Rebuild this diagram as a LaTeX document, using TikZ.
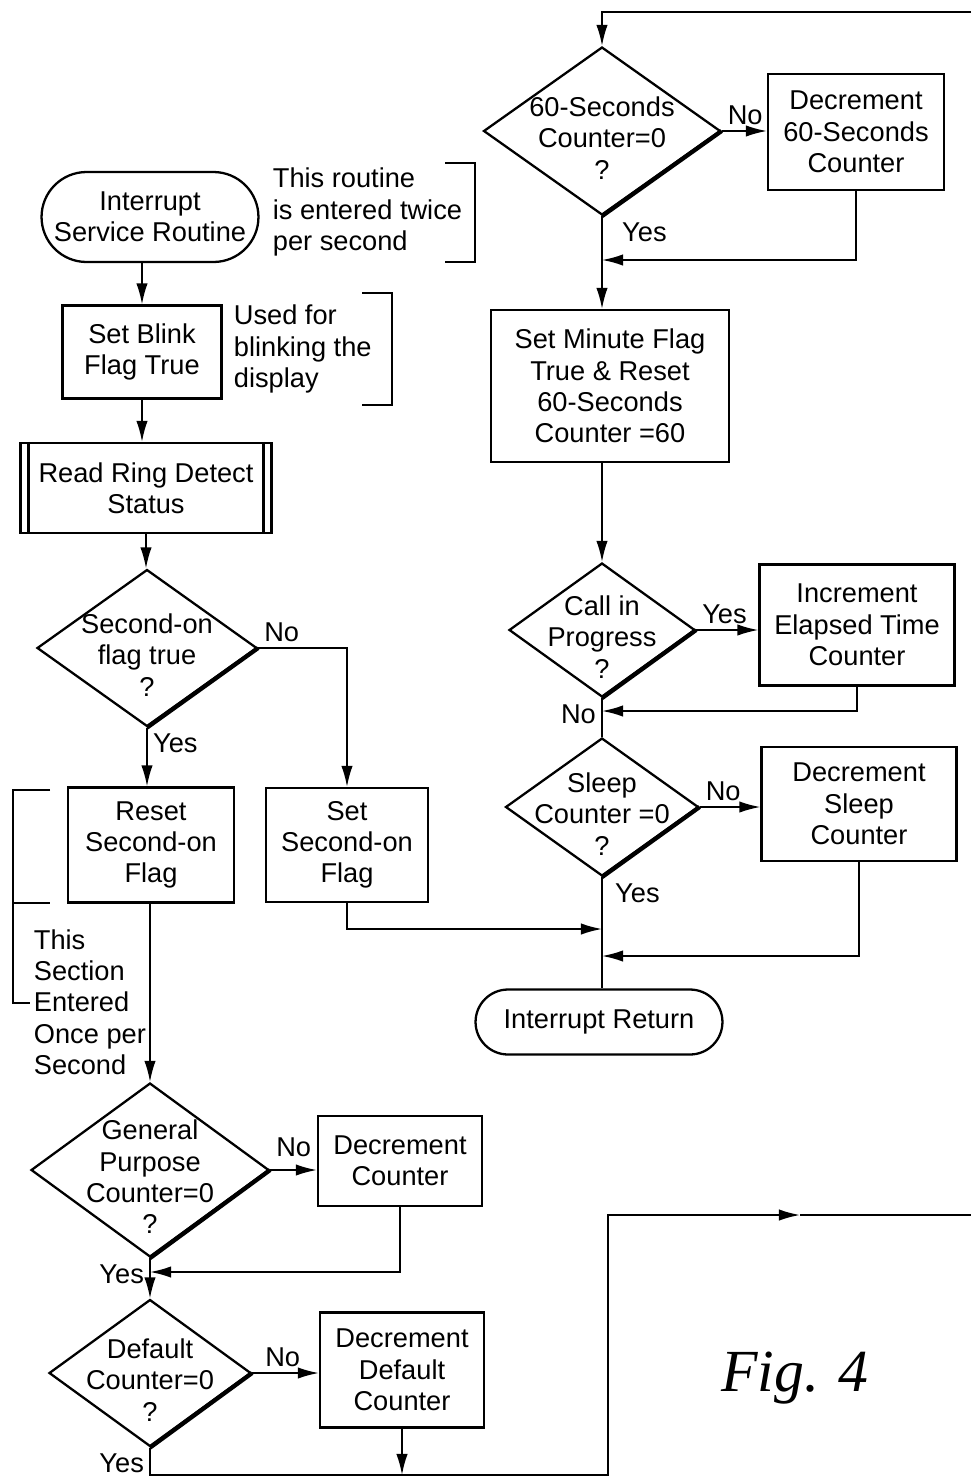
\documentclass[tikz,border=0pt]{standalone}
\usepackage{fontspec}
\setmainfont{Liberation Sans}
\newfontfamily\figfont{Liberation Serif}
\usetikzlibrary{shapes.geometric,shapes.misc,arrows.meta}

\begin{document}
\begin{tikzpicture}[x=0.02cm,y=-0.02cm,>={Latex[length=12pt,width=6.5pt]},line width=1pt,
  font=\fontsize{15.5}{17.8}\selectfont,
  term node/.style={rounded rectangle,draw,line width=1.3pt,align=center,inner sep=2pt},
  proc node/.style={rectangle,draw,line width=1.3pt,align=center,inner sep=2pt},
  sub node/.style={proc node},
  dec node/.style={diamond,draw,line width=1.3pt,inner sep=0pt},
  dec text/.style={align=center,yshift=-4pt},
  note/.style={align=left,inner sep=0pt,anchor=west},
  lbl/.style={inner sep=3pt}]
\useasboundingbox (0,0) rectangle (971,1478);

% left column
\node[term node,minimum width=4.48cm,minimum height=1.8cm] (isr) at (150,217) {Interrupt\\Service Routine};
\node[note] (n1) at (272,212) {This routine\\is entered twice\\per second};
\node[proc node,minimum width=3.18cm,minimum height=1.86cm] (blink) at (142,352) {Set Blink\\Flag True};
\node[note] (n2) at (233,349) {Used for\\blinking the\\display};
\node[sub node,minimum width=5.02cm,minimum height=1.8cm] (rrd) at (146,488) {Read Ring Detect\\Status};
\node[dec node,minimum width=4.4cm,minimum height=3.14cm,label={[dec text]center:Second-on\\flag true\\?}] (son) at (147,648) {};
\node[proc node,minimum width=3.32cm,minimum height=2.3cm] (reset) at (151,845) {Reset\\Second-on\\Flag};
\node[proc node,minimum width=3.24cm,minimum height=2.28cm] (set) at (347,845) {Set\\Second-on\\Flag};
\node[note] (n3) at (33,1002) {This\\Section\\Entered\\Once per\\Second};
\node[dec node,minimum width=4.76cm,minimum height=3.48cm,label={[dec text]center:General\\Purpose\\Counter=0\\?}] (gp) at (150,1170) {};
\node[proc node,minimum width=3.28cm,minimum height=1.8cm] (decgp) at (400,1161) {Decrement\\Counter};
\node[dec node,minimum width=4.04cm,minimum height=2.94cm,label={[dec text]center:Default\\Counter=0\\?}] (def) at (150,1373) {};
\node[proc node,minimum width=3.28cm,minimum height=2.3cm] (decdef) at (402,1370) {Decrement\\Default\\Counter};

% right column
\node[dec node,minimum width=4.74cm,minimum height=3.36cm,label={[dec text]center:60-Seconds\\Counter=0\\?}] (s60) at (602,131) {};
\node[proc node,minimum width=3.52cm,minimum height=2.32cm] (dec60) at (856,132) {Decrement\\60-Seconds\\Counter};
\node[proc node,minimum width=4.76cm,minimum height=3.04cm] (setmin) at (610,386) {Set Minute Flag\\True \& Reset\\60-Seconds\\Counter =60};
\node[dec node,minimum width=3.72cm,minimum height=2.68cm,label={[dec text]center:Call in\\Progress\\?}] (cip) at (602,630) {};
\node[proc node,minimum width=3.9cm,minimum height=2.42cm] (incel) at (857,625) {Increment\\Elapsed Time\\Counter};
\node[dec node,minimum width=3.86cm,minimum height=2.76cm,label={[dec text]center:Sleep\\Counter =0\\?}] (slp) at (602,807) {};
\node[proc node,minimum width=3.9cm,minimum height=2.28cm] (decsl) at (859,804) {Decrement\\Sleep\\Counter};
\node[term node,minimum width=5.08cm,minimum height=1.3cm] (iret) at (599,1022) {Interrupt Return};
\node[font=\figfont\itshape\fontsize{34}{34}\selectfont] (fig) at (795,1378) {Fig. 4};

\coordinate (j1) at (602,929);
\coordinate (j2) at (150,1272);
\coordinate (j3) at (403,1475);
\coordinate (j4) at (602,260);
\coordinate (j5) at (602,711);
\coordinate (j6) at (602,956);
\coordinate (lp1) at (608,1475);
\coordinate (lp2) at (800,1215);
\coordinate (lp3) at (971,1215);
\coordinate (lp4) at (971,12);

% inner lines of the subroutine box
\draw[line width=1.3pt] ([xshift=0.18cm]rrd.north west) -- ([xshift=0.18cm]rrd.south west);
\draw[line width=1.3pt] ([xshift=-0.18cm]rrd.north east) -- ([xshift=-0.18cm]rrd.south east);

% heavy lower right edges of the decisions
\foreach \d in {son,gp,def,s60,cip,slp}
  \draw[line width=2.4pt] (\d.east) -- (\d.south);

% brackets
\draw (445,163) -- (475,163) -- (475,262) -- (445,262);
\draw (362,293) -- (392,293) -- (392,405) -- (362,405);
\draw (50,790) -- (13,790) -- (13,1003) -- (30,1003);
\draw (13,903) -- (50,903);

% left flow
\draw[->] (blink.north |- isr.south) -- (blink.north);
\draw[->] (blink.south) -- (blink.south |- rrd.north);
\draw[->] (rrd.south) -- (rrd.south |- son.north);
\draw[->] (son.east) node[lbl,above right] {No} -| (set.north);
\draw[->] (son.south) node[lbl,below right] {Yes} -- (son.south |- reset.north);
\draw[->] (set.south) |- (j1);
\draw[->] (reset.south -| gp.north) -- (gp.north);
\draw[->] (gp.east) node[lbl,above right,yshift=4pt] {No} -- (gp.east -| decgp.west);
\draw[->] (decgp.south) |- (j2);
\draw[->] (gp.south) node[lbl,below left] {Yes} -- (def.north);
\draw[->] (def.east) node[lbl,above right,xshift=4pt] {No} -- (def.east -| decdef.west);
\draw[->] (decdef.south) -- (decdef.south |- j3);
\draw[->] (def.south) node[lbl,below left] {Yes} |- (lp1) |- (lp2);
\draw (lp2) -- (lp3);

% right flow
\draw[->] (lp4) -| (s60.north);
\draw[->] (s60.east) node[lbl,above right] {No} -- (s60.east -| dec60.west);
\draw[->] (dec60.south) |- (j4);
\draw[->] (s60.south) node[lbl,below right,xshift=8pt] {Yes} -- (s60.south |- setmin.north);
\draw[->] (cip.north |- setmin.south) -- (cip.north);
\draw[->] (cip.east) node[lbl,above right] {Yes} -- (cip.east -| incel.west);
\draw[->] (incel.south) |- (j5);
\draw (cip.south) node[lbl,below left] {No} -- (slp.north);
\draw[->] (slp.east) node[lbl,above right] {No} -- (slp.east -| decsl.west);
\draw[->] (decsl.south) |- (j6);
\draw (slp.south) node[lbl,below right,xshift=4pt] {Yes} -- (slp.south |- iret.north);
\end{tikzpicture}
\end{document}
